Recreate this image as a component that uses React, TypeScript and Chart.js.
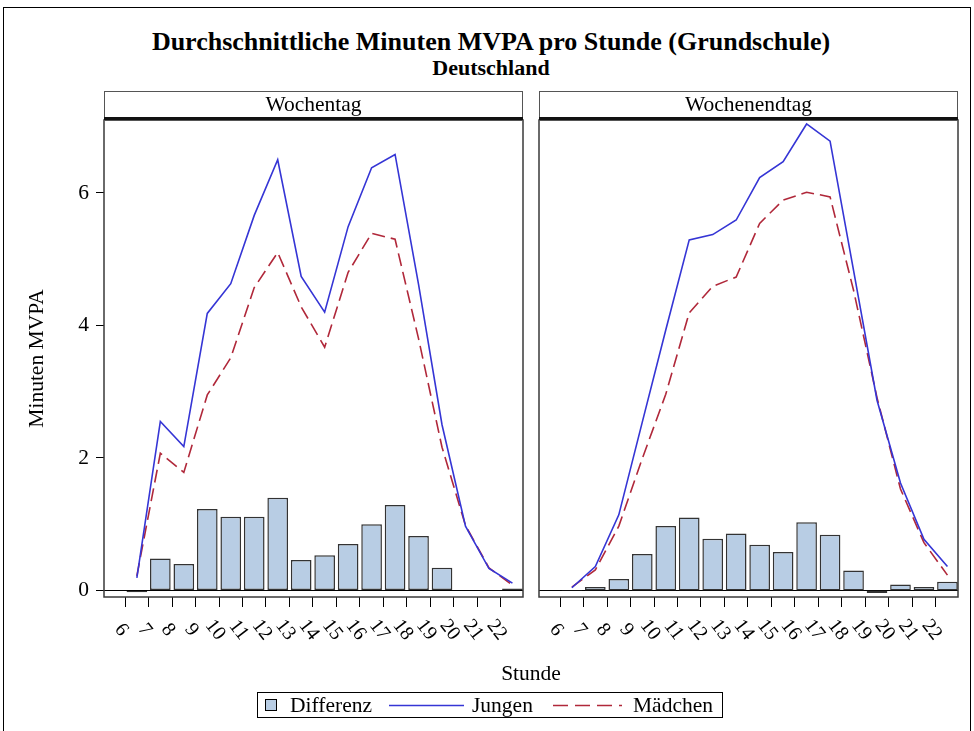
import React, { useEffect, useRef } from 'react';
import { Chart, registerables } from 'chart.js';

Chart.register(...registerables);

// Hour midpoints (data are plotted between the hour ticks)
const hours = [6.5, 7.5, 8.5, 9.5, 10.5, 11.5, 12.5, 13.5, 14.5, 15.5, 16.5, 17.5, 18.5, 19.5, 20.5, 21.5, 22.5];
const tickHours = [6, 7, 8, 9, 10, 11, 12, 13, 14, 15, 16, 17, 18, 19, 20, 21, 22];
const yTicks = [0, 2, 4, 6];

// Wochentag
const weekdayDiff = [-0.03, 0.48, 0.4, 1.23, 1.11, 1.11, 1.4, 0.46, 0.53, 0.7, 1.0, 1.29, 0.82, 0.34, -0.01, -0.01, 0.03];
const weekdayBoys = [0.19, 2.55, 2.17, 4.18, 4.63, 5.66, 6.5, 4.74, 4.2, 5.49, 6.38, 6.58, 4.62, 2.5, 0.97, 0.33, 0.11];
const weekdayGirls = [0.22, 2.07, 1.78, 2.95, 3.51, 4.57, 5.1, 4.28, 3.67, 4.8, 5.39, 5.3, 3.8, 2.16, 0.98, 0.34, 0.08];

// Wochenendtag
const weekendDiff = [-0.01, 0.05, 0.17, 0.55, 0.97, 1.1, 0.78, 0.86, 0.69, 0.58, 1.03, 0.84, 0.3, -0.04, 0.09, 0.05, 0.13];
const weekendBoys = [0.04, 0.36, 1.14, 2.54, 3.93, 5.29, 5.37, 5.59, 6.23, 6.47, 7.04, 6.78, 4.83, 2.87, 1.62, 0.77, 0.36];
const weekendGirls = [0.05, 0.31, 0.97, 1.99, 2.96, 4.19, 4.59, 4.73, 5.54, 5.89, 6.01, 5.94, 4.53, 2.91, 1.53, 0.72, 0.23];

const SERIF = '"Liberation Serif", "Times New Roman", serif';
const BLUE = '#3535d5';
const RED = '#b0283a';
const BAR_FILL = '#b8cde4';
const BAR_EDGE = '#333333';

const panelPlugin = {
  id: 'panel',
  beforeDatasetsDraw(chart: any) {
    const { ctx, chartArea: a, scales } = chart;
    const y0 = Math.round(scales.y.getPixelForValue(0)) + 0.5;
    ctx.save();
    ctx.strokeStyle = '#000';
    ctx.lineWidth = 1;
    ctx.beginPath();
    ctx.moveTo(a.left, y0);
    ctx.lineTo(a.right, y0);
    ctx.stroke();
    ctx.restore();
  },
  afterDraw(chart: any, _args: any, opts: any) {
    const { ctx, chartArea: a, scales } = chart;
    ctx.save();
    // plot frame
    ctx.strokeStyle = '#3a3a3a';
    ctx.lineWidth = 1.5;
    ctx.strokeRect(a.left, a.top, a.right - a.left, a.bottom - a.top);
    // header strip
    const hTop = a.top - 29;
    ctx.fillStyle = '#fff';
    ctx.fillRect(a.left, hTop, a.right - a.left, 29);
    ctx.strokeStyle = '#555';
    ctx.lineWidth = 1;
    ctx.strokeRect(a.left + 0.5, hTop + 0.5, a.right - a.left - 1, 29);
    ctx.fillStyle = '#111';
    ctx.fillRect(a.left, a.top - 3, a.right - a.left, 3);
    ctx.fillStyle = '#000';
    ctx.font = `21.5px ${SERIF}`;
    ctx.textAlign = 'center';
    ctx.textBaseline = 'middle';
    ctx.fillText(opts.title, (a.left + a.right) / 2, hTop + 14);
    // rotated x tick labels
    ctx.font = `20px ${SERIF}`;
    const xs = scales.x;
    tickHours.forEach((h) => {
      const px = xs.getPixelForValue(h);
      ctx.save();
      ctx.translate(px - 4, a.bottom + 33);
      ctx.rotate((52 * Math.PI) / 180);
      ctx.textAlign = 'center';
      ctx.textBaseline = 'middle';
      ctx.fillText(String(h), 0, 0);
      ctx.restore();
    });
    ctx.restore();
  },
};

function buildConfig(title: string, diff: number[], boys: number[], girls: number[], showY: boolean, padLeft: number, padRight: number) {
  const pts = (arr: number[]) => hours.map((h, i) => ({ x: h, y: arr[i] }));
  return {
    type: 'bar',
    data: {
      datasets: [
        {
          type: 'line',
          label: 'Jungen',
          data: pts(boys),
          borderColor: BLUE,
          borderWidth: 1.6,
          pointRadius: 0,
          tension: 0,
          fill: false,
          order: 1,
        },
        {
          type: 'line',
          label: 'Mädchen',
          data: pts(girls),
          borderColor: RED,
          borderWidth: 1.6,
          borderDash: [13, 6],
          pointRadius: 0,
          tension: 0,
          fill: false,
          order: 2,
        },
        {
          type: 'bar',
          label: 'Differenz',
          data: pts(diff),
          backgroundColor: BAR_FILL,
          borderColor: BAR_EDGE,
          borderWidth: 1.5,
          borderSkipped: false,
          barPercentage: 0.88,
          categoryPercentage: 1,
          order: 3,
        },
      ],
    },
    options: {
      responsive: false,
      animation: false,
      events: [],
      layout: { padding: { top: 120, bottom: 94, left: padLeft, right: padRight } },
      plugins: {
        legend: { display: false },
        tooltip: { enabled: false },
        panel: { title },
      },
      scales: {
        x: {
          type: 'linear',
          min: 5.1,
          max: 22.95,
          offset: false,
          afterBuildTicks: (s: any) => {
            s.ticks = tickHours.map((v) => ({ value: v }));
          },
          afterFit: (s: any) => {
            s.height = 40;
          },
          grid: { drawOnChartArea: false, drawTicks: true, tickLength: 10, color: '#000', lineWidth: 1, offset: false },
          border: { display: false },
          ticks: { display: false },
        },
        y: {
          type: 'linear',
          min: -0.1,
          max: 7.1,
          display: showY,
          afterBuildTicks: (s: any) => {
            s.ticks = yTicks.map((v) => ({ value: v }));
          },
          afterFit: (s: any) => {
            s.width = showY ? 104 : 0;
          },
          grid: { drawOnChartArea: false, drawTicks: true, tickLength: 8, color: '#000', lineWidth: 1 },
          border: { display: false },
          ticks: { color: '#000', padding: 7, font: { family: SERIF, size: 21.5 } },
          title: {
            display: showY,
            text: 'Minuten MVPA',
            color: '#000',
            font: { family: SERIF, size: 21.5 },
            padding: { top: 24, bottom: 0 },
          },
        },
      },
    },
    plugins: [panelPlugin],
  };
}

function Panel(props: { left: number; width: number; padLeft: number; padRight: number; showY: boolean; title: string; diff: number[]; boys: number[]; girls: number[] }) {
  const ref = useRef<HTMLCanvasElement>(null);
  useEffect(() => {
    const chart = new Chart(
      ref.current as HTMLCanvasElement,
      buildConfig(props.title, props.diff, props.boys, props.girls, props.showY, props.padLeft, props.padRight) as any
    );
    return () => chart.destroy();
  }, []);
  return (
    <canvas
      ref={ref}
      width={props.width}
      height={731}
      style={{ position: 'absolute', left: props.left, top: 0, width: props.width, height: 731 }}
    />
  );
}

export default function App() {
  const text: React.CSSProperties = { position: 'absolute', fontFamily: SERIF, color: '#000', whiteSpace: 'nowrap' };
  return (
    <div style={{ position: 'absolute', left: 0, top: 0, width: 974, height: 731, overflow: 'hidden', background: '#fff' }}>
      <div style={{ position: 'absolute', left: 3, top: 7, width: 968, height: 740, border: '1px solid #000', boxSizing: 'border-box' }} />
      <div style={{ ...text, left: 4, width: 974, top: 27, lineHeight: '30px', fontSize: 26, fontWeight: 'bold', textAlign: 'center' }}>
        Durchschnittliche Minuten MVPA pro Stunde (Grundschule)
      </div>
      <div style={{ ...text, left: 4, width: 974, top: 55, lineHeight: '26px', fontSize: 22, fontWeight: 'bold', textAlign: 'center' }}>
        Deutschland
      </div>
      <Panel left={0} width={531} padLeft={0} padRight={8} showY={true} title="Wochentag" diff={weekdayDiff} boys={weekdayBoys} girls={weekdayGirls} />
      <Panel left={531} width={443} padLeft={8} padRight={16} showY={false} title="Wochenendtag" diff={weekendDiff} boys={weekendBoys} girls={weekendGirls} />
      <div style={{ ...text, left: 431, width: 200, top: 660, lineHeight: '26px', fontSize: 21.5, textAlign: 'center' }}>Stunde</div>
      <div style={{ position: 'absolute', left: 257, top: 692, width: 466, height: 26, border: '1px solid #000', boxSizing: 'border-box' }}>
        <div style={{ position: 'absolute', left: 7, top: 6, width: 12, height: 12, background: BAR_FILL, border: '1px solid #000', boxSizing: 'border-box' }} />
        <span style={{ ...text, left: 32, top: 0, lineHeight: '24px', fontSize: 21.5 }}>Differenz</span>
        <svg style={{ position: 'absolute', left: 131, top: 0 }} width={75} height={24}>
          <line x1={0} y1={12.5} x2={75} y2={12.5} stroke={BLUE} strokeWidth={1.6} />
        </svg>
        <span style={{ ...text, left: 214, top: 0, lineHeight: '24px', fontSize: 21.5 }}>Jungen</span>
        <svg style={{ position: 'absolute', left: 295, top: 0 }} width={69} height={24}>
          <line x1={0} y1={12.5} x2={69} y2={12.5} stroke={RED} strokeWidth={1.6} strokeDasharray="15 7" />
        </svg>
        <span style={{ ...text, left: 375, top: 0, lineHeight: '24px', fontSize: 21.5 }}>Mädchen</span>
      </div>
    </div>
  );
}
